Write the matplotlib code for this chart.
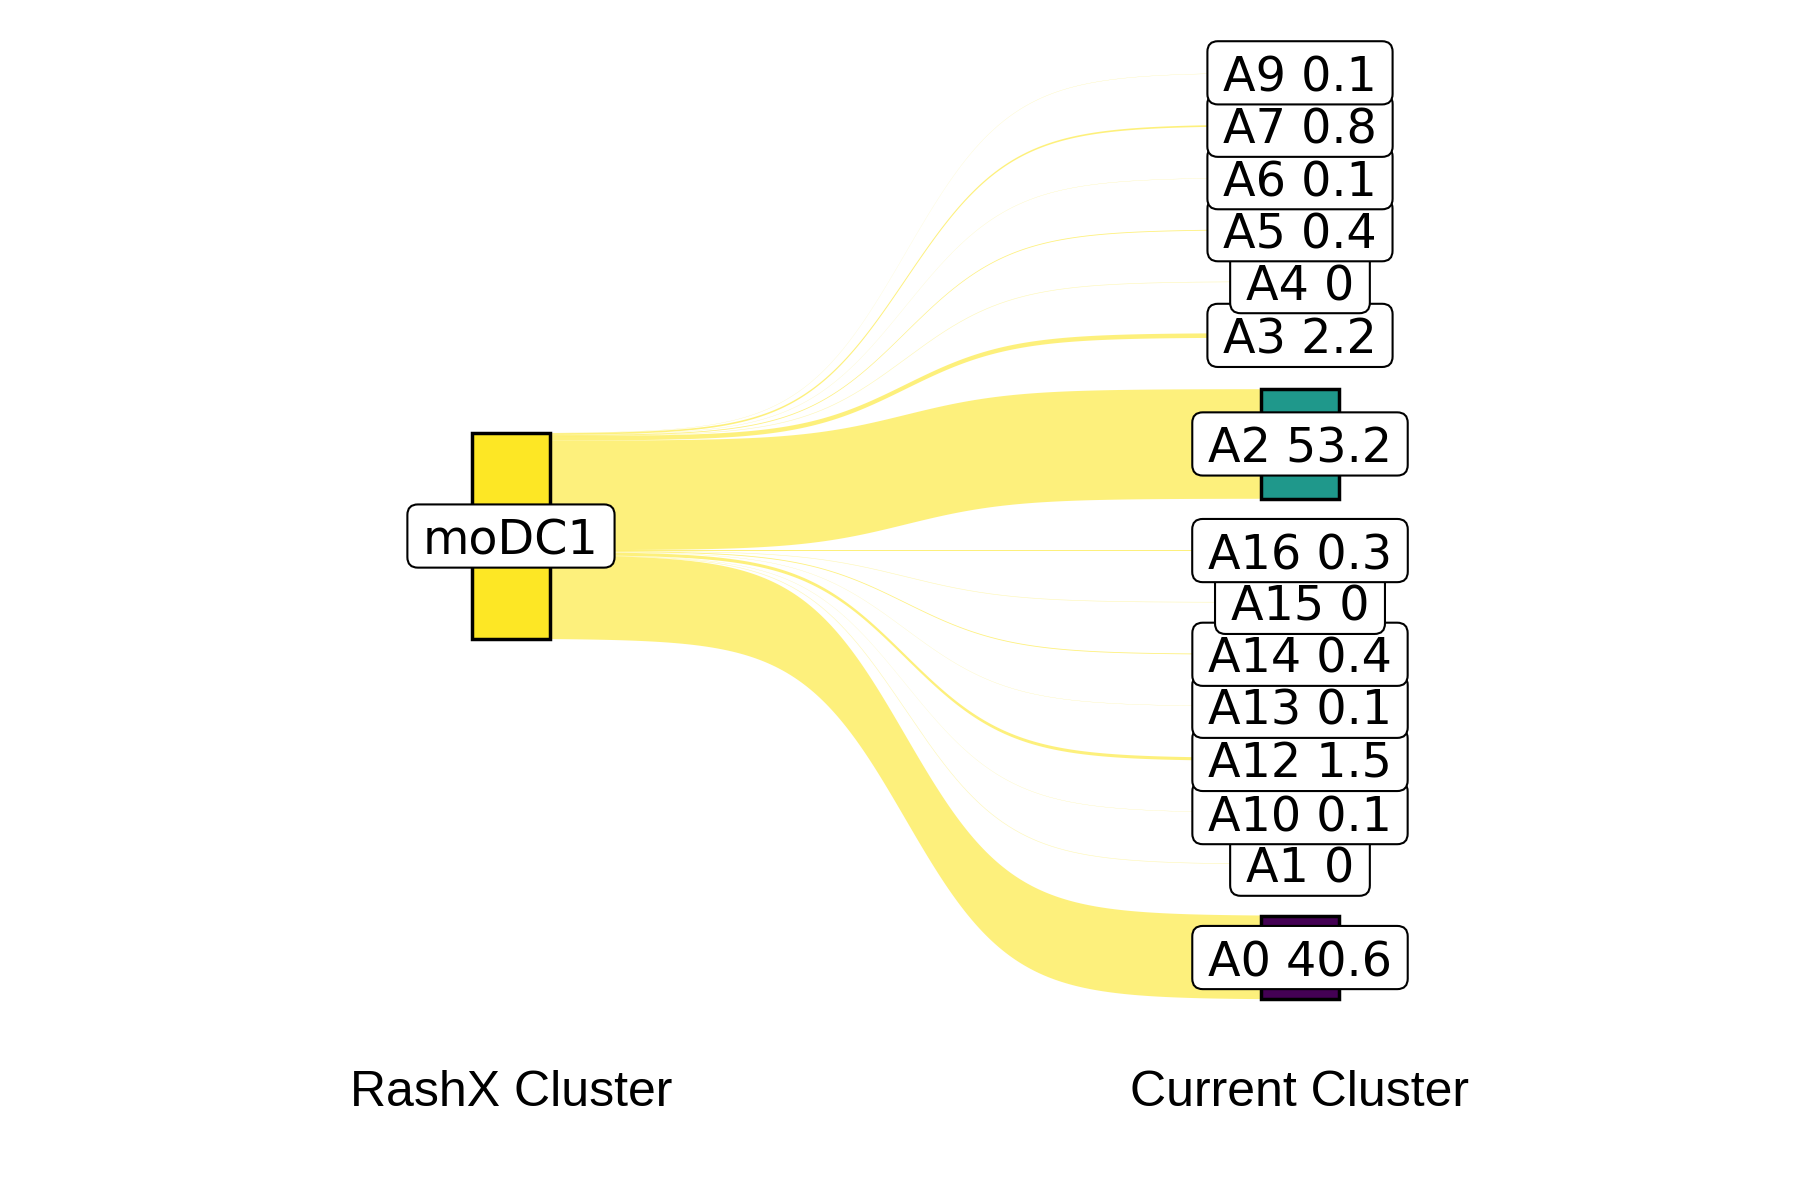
import numpy as np
import matplotlib
matplotlib.use("Agg")
import matplotlib.pyplot as plt
from matplotlib.patches import Rectangle, Polygon, BoxStyle
from matplotlib.transforms import ScaledTranslation

# ---- data ----
source_node = "moDC1"
# target clusters, bottom to top
target_nodes = ["A0", "A1", "A10", "A12", "A13", "A14", "A15", "A16",
                "A2", "A3", "A4", "A5", "A6", "A7", "A9"]
target_values = [40.6, 0, 0.1, 1.5, 0.1, 0.4, 0, 0.3,
                 53.2, 2.2, 0, 0.4, 0.1, 0.8, 0.1]
axis_labels = ["RashX Cluster", "Current Cluster"]

SPACE = 25
NODE_W = 0.1
FLOW_ALPHA = 0.6
LABEL_FS = 34.3
SHIFT = 0.105  # em

fig = plt.figure(figsize=(18, 12), dpi=100)
ax = fig.add_axes([0, 0, 1, 1])
ax.set_xlim(0.3524, 2.6337)
ax.set_ylim(-322.3, 260.2)
ax.axis("off")

# node colours: viridis over all node names (sorted)
all_nodes = sorted(target_nodes + [source_node])
cmap = plt.get_cmap("viridis")
colors = {nm: cmap(i / (len(all_nodes) - 1)) for i, nm in enumerate(all_nodes)}

total = sum(target_values)
n = len(target_values)
right_total = total + SPACE * (n - 1)

right_pos = []
y = -right_total / 2
for v in target_values:
    right_pos.append((y, y + v))
    y += v + SPACE

left_pos = []
y = -total / 2
for v in target_values:
    left_pos.append((y, y + v))
    y += v

# sigmoid flows
smooth = 7.5
tt = np.linspace(-smooth, smooth, 400)
s = 1 / (1 + np.exp(-tt))
s = (s - s[0]) / (s[-1] - s[0])
xs = 1 + np.linspace(0, 1, 400)

flow_col = colors[source_node]
for (l0, l1), (r0, r1), v in zip(left_pos, right_pos, target_values):
    top = l1 + (r1 - l1) * s
    bot = l0 + (r0 - l0) * s
    if v <= 0:
        ax.plot(xs, top, color=flow_col, lw=0.4, alpha=0.35, zorder=1)
        continue
    pts = np.vstack([np.column_stack([xs, top]),
                     np.column_stack([xs[::-1], bot[::-1]])])
    ax.add_patch(Polygon(pts, closed=True, facecolor=flow_col,
                         alpha=FLOW_ALPHA, edgecolor="none", zorder=1))

# nodes
ax.add_patch(Rectangle((1 - NODE_W / 2, -total / 2), NODE_W, total,
                       facecolor=colors[source_node], edgecolor="black",
                       lw=2.5, zorder=2))
for nm, (r0, r1) in zip(target_nodes, right_pos):
    ax.add_patch(Rectangle((2 - NODE_W / 2, r0), NODE_W, r1 - r0,
                           facecolor=colors[nm], edgecolor="black",
                           lw=2.5, zorder=2))


# label box: rounded rectangle, more horizontal padding, cap-centred text
_round = BoxStyle.Round(pad=0, rounding_size=0.22)


def label_box(x0, y0, width, height, mutation_size):
    padx = 0.33 * mutation_size
    pad_top = (0.17 + SHIFT) * mutation_size
    pad_bot = (0.17 - SHIFT) * mutation_size
    return _round(x0 - padx, y0 - pad_bot, width + 2 * padx,
                  height + pad_top + pad_bot, mutation_size)


bbox = dict(boxstyle=label_box, fc="white", ec="black", lw=1.5)
lab_tr = ax.transData + ScaledTranslation(0, -SHIFT * LABEL_FS / 72,
                                          fig.dpi_scale_trans)
z = 3
for nm, v, (r0, r1) in zip(target_nodes, target_values, right_pos):
    ax.text(2, (r0 + r1) / 2, f"{nm} {v:g}", ha="center", va="center",
            fontsize=LABEL_FS, family="DejaVu Sans", bbox=bbox, zorder=z,
            transform=lab_tr)
    z += 0.01
ax.text(1, 0, source_node, ha="center", va="center", fontsize=LABEL_FS,
        family="DejaVu Sans", bbox=bbox, zorder=z, transform=lab_tr)

tr = ax.get_xaxis_transform()
for x, lab in zip([1, 2], axis_labels):
    ax.text(x, (1200 - 1093) / 1200, lab, transform=tr, ha="center",
            va="center", fontsize=36, family="Liberation Sans")

fig.savefig("out.png", dpi=100, facecolor="white")
